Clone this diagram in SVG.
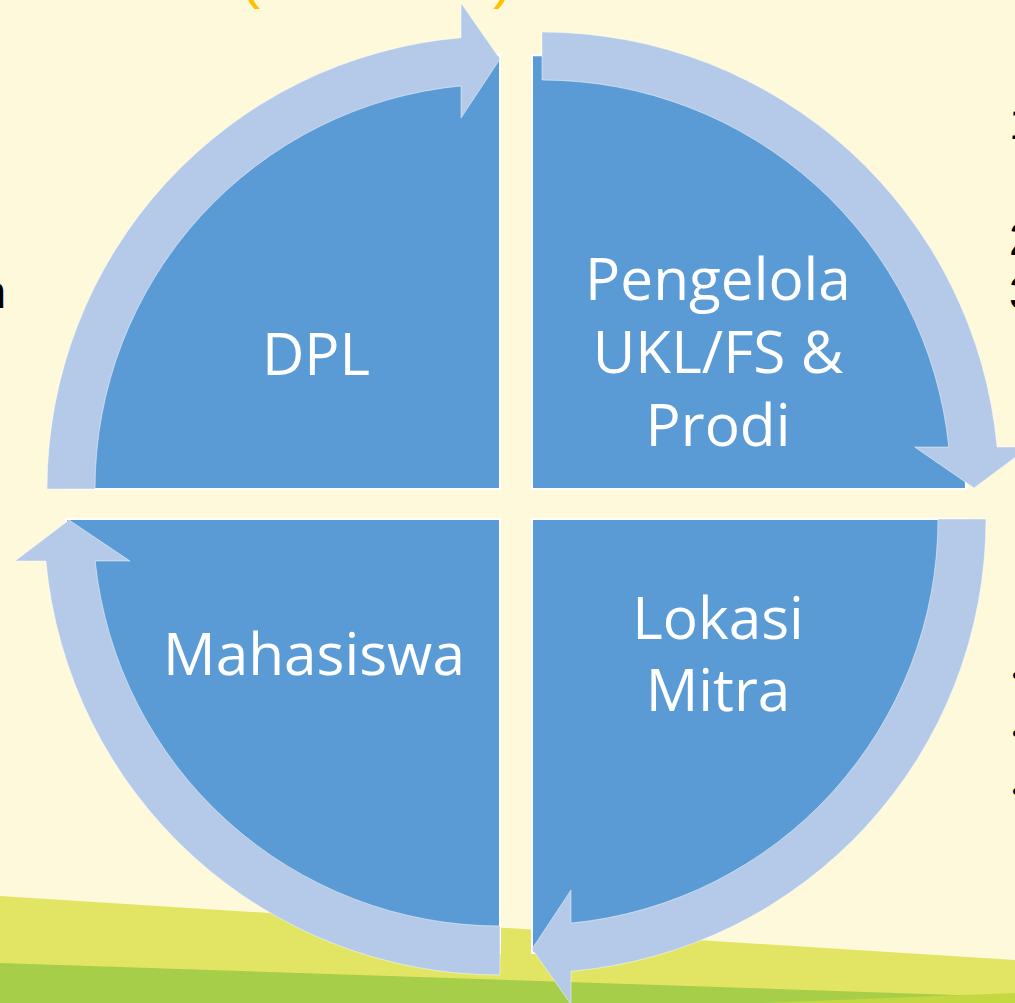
<svg xmlns="http://www.w3.org/2000/svg" width="1015" height="1003" viewBox="0 0 1015 1003">
<style>
.q{fill:#5B9BD5;stroke:#FFFFFF;stroke-width:2}
.ar{fill:#B4CAE8;stroke:#FFFFFF;stroke-width:0.8;stroke-opacity:0.6}
.lbl{font-family:"Open Sans","Liberation Sans",sans-serif;font-size:58.5px;fill:#FFFFFF;text-anchor:middle}
.side{font-family:"Liberation Sans",Arial,sans-serif;fill:#000000}
.paren{font-family:"Liberation Sans",Arial,sans-serif;font-size:60px;fill:#FFC000}
</style>
<rect x="0" y="0" width="1015" height="1003" fill="#FEF9DB"/>
<g id="ground">
<polygon points="0,896 1015,960 1015,1003 0,1003" fill="#E2E563"/>
<polygon points="0,963 1015,997 1015,1003 0,1003" fill="#A7CE48"/>
<polygon points="760,1003 1015,993 1015,1003" fill="#C4D940"/>
</g>
<g id="page-text">
<text class="paren" x="240" y="-3">(</text>
<text class="paren" x="493" y="-3">)</text>
<text class="side" x="-20" y="308" font-size="47">n</text>
<text class="side" x="1009" y="139" font-size="46">1</text>
<text class="side" x="1009" y="255" font-size="46">2</text>
<text class="side" x="1009" y="309" font-size="46">3</text>
<text class="side" x="1012" y="684" font-size="26">•</text>
<text class="side" x="1012" y="742" font-size="26">•</text>
<text class="side" x="1012" y="800" font-size="26">•</text>
</g>
<g id="node-dpl">
<path class="q" d="M500,489 L66,489 A434,434 0 0 1 500,55 Z"/>
<text class="lbl" x="316" y="375">DPL</text>
</g>
<g id="node-pengelola">
<path class="q" d="M532,489 L532,55 A434,434 0 0 1 966,489 Z"/>
<text class="lbl" x="718" y="300">Pengelola</text>
<text class="lbl" x="718" y="373">UKL/FS &amp;</text>
<text class="lbl" x="718" y="446">Prodi</text>
</g>
<g id="node-lokasi">
<path class="q" d="M532,519 L966,519 A434,434 0 0 1 532,953 Z"/>
<text class="lbl" x="718" y="639">Lokasi</text>
<text class="lbl" x="718" y="711">Mitra</text>
</g>
<g id="node-mahasiswa">
<path class="q" d="M500,519 L500,953 A434,434 0 0 1 66,519 Z"/>
<text class="lbl" x="314" y="675">Mahasiswa</text>
</g>
<g id="connectors">
<path class="ar" d="M47,489 A453,453 0 0 1 461,37.7 L461,3 L500,59 L461,118 L461,85.9 A405,405 0 0 0 95,489 Z"/>
<path class="ar" d="M542,32 A457,457 0 0 1 997.1,447 L1029,447 L974,488 L914.6,447 L948.8,447 A409,409 0 0 0 542,80 Z"/>
<path class="ar" d="M986,519 A454,454 0 0 1 571,971.3 L571,1004.4 L532,949 L571,890 L571,923.1 A406,406 0 0 0 938,519 Z"/>
<path class="ar" d="M500,975 A456,456 0 0 1 45.9,561 L15,561 L69,520 L130,561 L95.2,561 A407,407 0 0 0 500,926 Z"/>
</g>
</svg>
